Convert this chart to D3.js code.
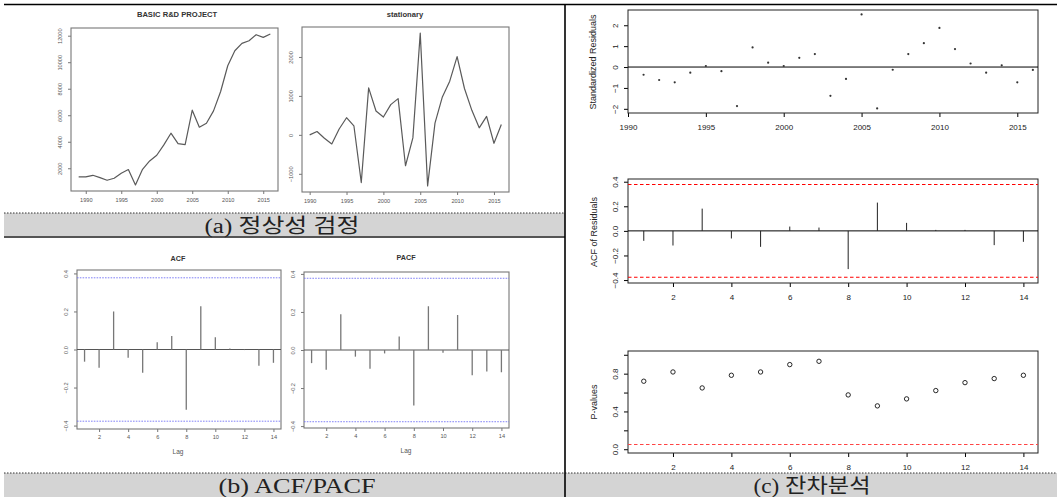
<!DOCTYPE html>
<html><head><meta charset="utf-8">
<script src="https://cdn.jsdelivr.net/npm/d3@7"></script>
<style>body{margin:0;background:#fff}svg{display:block}</style>
</head><body>
<svg id="c" width="1059" height="497"></svg>
<script>
// ---------------- DATA ----------------
const basicYears = [1989,1990,1991,1992,1993,1994,1995,1996,1997,1998,1999,2000,2001,2002,2003,2004,2005,2006,2007,2008,2009,2010,2011,2012,2013,2014,2015,2016];
const basicValues = [1345,1345,1470,1295,1093,1244,1622,1900,740,1924,2554,2982,3763,4645,3864,3788,6383,5098,5400,6332,7793,9733,10866,11420,11622,12075,11874,12126];
const diffYears = [1990,1991,1992,1993,1994,1995,1996,1997,1998,1999,2000,2001,2002,2003,2004,2005,2006,2007,2008,2009,2010,2011,2012,2013,2014,2015,2016];
const stationaryValues = [0,86,-86,-233,150,440,233,-1224,1207,612,457,776,931,-793,-78,2612,-1310,302,974,1379,2009,1190,630,181,474,-216,267];
const lags = [1,2,3,4,5,6,7,8,9,10,11,12,13,14];
const acfValues  = [-0.064,-0.096,0.200,-0.043,-0.122,0.038,0.071,-0.317,0.228,0.064,0.005,-0.003,-0.085,-0.070];
const pacfValues = [-0.069,-0.104,0.188,-0.035,-0.099,-0.018,0.071,-0.292,0.230,-0.014,0.184,-0.133,-0.113,-0.117];
const residYears = [1991,1992,1993,1994,1995,1996,1997,1998,1999,2000,2001,2002,2003,2004,2005,2006,2007,2008,2009,2010,2011,2012,2013,2014,2015,2016];
const stdResiduals = [-0.37,-0.62,-0.73,-0.27,0.05,-0.20,-1.87,0.94,0.21,0.05,0.44,0.62,-1.38,-0.57,2.52,-1.98,-0.13,0.62,1.14,1.87,0.86,0.17,-0.27,0.08,-0.73,-0.14];
const residAcfValues = [-0.081,-0.119,0.181,-0.062,-0.130,0.035,0.027,-0.311,0.230,0.065,0.008,0.008,-0.116,-0.089];
const pValues = [0.720,0.818,0.649,0.783,0.818,0.896,0.931,0.575,0.459,0.533,0.621,0.705,0.748,0.783];
const acfLimit = 0.377;
const pThreshold = 0.05;
// tick labels
const yearTicks = [1990,1995,2000,2005,2010,2015];
const basicYTicks = [2000,4000,6000,8000,10000,12000];
const stationaryYTicks = [-1000,0,1000,2000];
const acfYTicks = [-0.4,-0.2,0.0,0.2,0.4];
const lagTicks = [2,4,6,8,10,12,14];
const residYTicks = [-2,-1,0,1,2];
const pYTicks = [0,0.2,0.4,0.6,0.8,1.0];
const pYLabelled = [0,0.4,0.8];
const titles = {basic:"BASIC R&D PROJECT", stationary:"stationary", acf:"ACF", pacf:"PACF"};
const captions = {a:"(a) 정상성 검정", b:"(b) ACF/PACF", c:"(c) 잔차분석"};

// ---------------- DRAW ----------------
const FONT = "'Liberation Sans', Arial, Helvetica, sans-serif";
const svg = d3.select("#c");

function panel(cfg){
  const [x0,x1,y0,y1] = cfg.box;
  const g = svg.append("g");
  const x = d3.scaleLinear().domain(cfg.xDomain).range([x0,x1]);
  const y = d3.scaleLinear().domain(cfg.yDomain).range([y1,y0]);
  const xa = d3.axisBottom(x).tickValues(cfg.xTicks).tickSize(cfg.tick).tickPadding(cfg.xPad).tickFormat(cfg.xFormat);
  const gx = g.append("g").attr("transform",`translate(0,${y1})`).call(xa)
    .attr("font-family",FONT).attr("font-size",cfg.fs);
  gx.select(".domain").remove();
  gx.selectAll(".tick line").attr("stroke",cfg.axisColor);
  gx.selectAll(".tick text").attr("fill",cfg.textColor);
  const ya = d3.axisLeft(y).tickValues(cfg.yTicks).tickSize(cfg.tick).tickFormat(cfg.yFormat);
  const gy = g.append("g").attr("transform",`translate(${x0},0)`).call(ya)
    .attr("font-family",FONT).attr("font-size",cfg.fs);
  gy.select(".domain").remove();
  gy.selectAll(".tick line").attr("stroke",cfg.axisColor);
  gy.selectAll(".tick text").attr("fill",cfg.textColor)
    .attr("transform","rotate(-90)").attr("x",0).attr("y",-cfg.yPad).attr("dy",0)
    .attr("text-anchor","middle");
  g.append("rect").attr("x",x0).attr("y",y0).attr("width",x1-x0).attr("height",y1-y0)
    .attr("fill","none").attr("stroke",cfg.boxColor).attr("stroke-width",cfg.boxW||1);
  return {g,x,y};
}

// --- (a) left: BASIC R&D PROJECT
const smallCfg = {tick:3, fs:5.6, xPad:4.5, yPad:9, axisColor:"#777", textColor:"#555", boxColor:"#777", boxW:1.1};
{
  const p = panel(Object.assign({}, smallCfg, {box:[71,278,28,191], xDomain:[1987.92,2017.08], yDomain:[285,12581],
    xTicks:yearTicks, yTicks:basicYTicks, xFormat:d3.format("d"), yFormat:d3.format("d")}));
  p.g.append("path").datum(basicValues)
    .attr("d", d3.line().x((d,i)=>p.x(basicYears[i])).y(d=>p.y(d)))
    .attr("fill","none").attr("stroke","#5a5a5a").attr("stroke-width",1.2).attr("stroke-linejoin","round");
  svg.append("text").attr("x",177).attr("y",16.5).attr("text-anchor","middle").attr("font-family",FONT)
    .attr("font-weight","bold").attr("font-size",7.6).attr("fill","#333").text(titles.basic);
}
// --- stationary
{
  const p = panel(Object.assign({}, smallCfg, {box:[302,509,27,192], xDomain:[1988.96,2017.04], yDomain:[-1467,2769],
    xTicks:yearTicks, yTicks:stationaryYTicks, xFormat:d3.format("d"), yFormat:d3.format("d")}));
  p.g.append("path").datum(stationaryValues)
    .attr("d", d3.line().x((d,i)=>p.x(diffYears[i])).y(d=>p.y(d)))
    .attr("fill","none").attr("stroke","#5a5a5a").attr("stroke-width",1.2).attr("stroke-linejoin","round");
  svg.append("text").attr("x",405).attr("y",16.5).attr("text-anchor","middle").attr("font-family",FONT)
    .attr("font-weight","bold").attr("font-size",7.6).attr("fill","#333").text(titles.stationary);
}
// --- ACF / PACF
function acfPanel(box, yDom, vals, title, tx, ty, lagY){
  const p = panel(Object.assign({}, smallCfg, {box:box, xDomain:[0.48,14.52], yDomain:yDom,
    xTicks:lagTicks, yTicks:acfYTicks, xFormat:d3.format("d"), yFormat:d3.format(".1f"), xPad:3.5}));
  [acfLimit,-acfLimit].forEach(v=>{
    p.g.append("line").attr("x1",box[0]).attr("x2",box[1]).attr("y1",p.y(v)).attr("y2",p.y(v))
      .attr("stroke","#7373f5").attr("stroke-width",0.9).attr("stroke-dasharray","1.6,1.2");
  });
  p.g.append("line").attr("x1",box[0]).attr("x2",box[1]).attr("y1",p.y(0)).attr("y2",p.y(0))
    .attr("stroke","#555").attr("stroke-width",1);
  p.g.selectAll("line.bar").data(vals).join("line").attr("class","bar")
    .attr("x1",(d,i)=>p.x(lags[i])).attr("x2",(d,i)=>p.x(lags[i]))
    .attr("y1",p.y(0)).attr("y2",d=>p.y(d))
    .attr("stroke","#777").attr("stroke-width",1.3);
  svg.append("text").attr("x",tx).attr("y",ty).attr("text-anchor","middle").attr("font-family",FONT)
    .attr("font-weight","bold").attr("font-size",7.2).attr("fill","#333").text(title);
  svg.append("text").attr("x",tx).attr("y",lagY).attr("text-anchor","middle").attr("font-family",FONT)
    .attr("font-size",6.5).attr("fill","#555").text("Lag");
}
acfPanel([77,281,270,429], [-0.418,0.418], acfValues, titles.acf, 178, 260.5, 454);
acfPanel([304,509,272,428], [-0.41,0.41], pacfValues, titles.pacf, 406, 259.5, 452.5);

// --- (c) right panels
const bigCfg = {tick:4, fs:8, xPad:7.5, yPad:10, axisColor:"#000", textColor:"#222", boxColor:"#222", boxW:1};
function yTitle(text, cx, cy){
  svg.append("text").attr("transform",`translate(${cx},${cy}) rotate(-90)`).attr("text-anchor","middle")
    .attr("font-family",FONT).attr("font-size",9).attr("fill","#222").text(text);
}
{
  const p = panel(Object.assign({}, bigCfg, {box:[628,1038,10,113], xDomain:[1990,2016.33], yDomain:[-2.2,2.73],
    xTicks:yearTicks, yTicks:residYTicks, xFormat:d3.format("d"), yFormat:d3.format("d")}));
  p.g.append("line").attr("x1",628).attr("x2",1038).attr("y1",p.y(0)).attr("y2",p.y(0))
    .attr("stroke","#000").attr("stroke-width",1);
  p.g.selectAll("circle").data(stdResiduals).join("circle")
    .attr("cx",(d,i)=>p.x(residYears[i])).attr("cy",d=>p.y(d)).attr("r",1.1).attr("fill","#333");
  yTitle("Standardized Residuals", 596, 62);
}
{
  const p = panel(Object.assign({}, bigCfg, {box:[628,1038,179,283], xDomain:[0.46,14.5], yDomain:[-0.424,0.422],
    xTicks:lagTicks, yTicks:acfYTicks, xFormat:d3.format("d"), yFormat:d3.format(".1f")}));
  [acfLimit,-acfLimit].forEach(v=>{
    p.g.append("line").attr("x1",628).attr("x2",1038).attr("y1",p.y(v)).attr("y2",p.y(v))
      .attr("stroke","#f00").attr("stroke-width",1.1).attr("stroke-dasharray","3.5,2.5");
  });
  p.g.append("line").attr("x1",628).attr("x2",1038).attr("y1",p.y(0)).attr("y2",p.y(0))
    .attr("stroke","#000").attr("stroke-width",1);
  p.g.selectAll("line.bar").data(residAcfValues).join("line").attr("class","bar")
    .attr("x1",(d,i)=>p.x(lags[i])).attr("x2",(d,i)=>p.x(lags[i]))
    .attr("y1",p.y(0)).attr("y2",d=>p.y(d))
    .attr("stroke","#222").attr("stroke-width",1);
  yTitle("ACF of Residuals", 597, 232);
}
{
  const p = panel(Object.assign({}, bigCfg, {box:[628,1038,351,453], xDomain:[0.46,14.5], yDomain:[-0.04,1.04],
    xTicks:lagTicks, yTicks:pYTicks, xFormat:d3.format("d"), yFormat:d=>pYLabelled.includes(d)?d3.format(".1f")(d):""}));
  p.g.append("line").attr("x1",628).attr("x2",1038).attr("y1",p.y(pThreshold)).attr("y2",p.y(pThreshold))
    .attr("stroke","#f44").attr("stroke-width",1.1).attr("stroke-dasharray","3.5,2.5");
  p.g.selectAll("circle").data(pValues).join("circle")
    .attr("cx",(d,i)=>p.x(lags[i])).attr("cy",d=>p.y(d)).attr("r",2.2)
    .attr("fill","none").attr("stroke","#111").attr("stroke-width",0.9);
  yTitle("P-values", 597, 402);
}

// --- frame & caption bands
const frame = svg.append("g");
frame.append("rect").attr("x",4).attr("y",213).attr("width",561).attr("height",24).attr("fill","#d4d4d4");
frame.append("line").attr("x1",4).attr("x2",565).attr("y1",213).attr("y2",213)
  .attr("stroke","#333").attr("stroke-width",1).attr("stroke-dasharray","1.5,1.5");
frame.append("line").attr("x1",4).attr("x2",565).attr("y1",237).attr("y2",237)
  .attr("stroke","#555").attr("stroke-width",2);
frame.append("rect").attr("x",4).attr("y",473).attr("width",1053).attr("height",24).attr("fill","#d4d4d4");
frame.append("line").attr("x1",4).attr("x2",1057).attr("y1",473).attr("y2",473)
  .attr("stroke","#333").attr("stroke-width",1).attr("stroke-dasharray","1.5,1.5");
frame.append("line").attr("x1",4).attr("x2",1057).attr("y1",4.6).attr("y2",4.6)
  .attr("stroke","#000").attr("stroke-width",1.5);
frame.append("line").attr("x1",565).attr("x2",565).attr("y1",4).attr("y2",497)
  .attr("stroke","#000").attr("stroke-width",1.6);

const CAPFONT = "'Liberation Serif', 'DejaVu Serif', 'Noto Sans CJK KR', serif";
function caption(text, cx, base, len){
  frame.append("text").attr("x",cx).attr("y",base).attr("text-anchor","middle")
    .attr("font-family",CAPFONT).attr("font-size",20.5).attr("fill","#222")
    .attr("textLength",len).attr("lengthAdjust","spacingAndGlyphs").text(text);
}
caption(captions.a, 282, 232.5, 155);
caption(captions.b, 297, 492.5, 157);
caption(captions.c, 812, 492.5, 117);
</script>
</body></html>
